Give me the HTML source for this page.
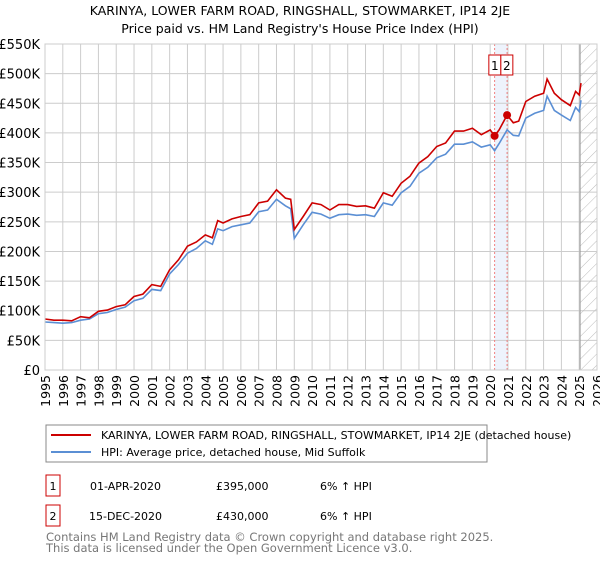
<!DOCTYPE html>
<html><head><meta charset="utf-8"><style>
body{margin:0;background:#fff;font-family:"Liberation Sans","DejaVu Sans",sans-serif;}
svg text{font-family:"DejaVu Sans","Liberation Sans",sans-serif;}
</style></head><body>
<svg id="c" width="600" height="560" xmlns="http://www.w3.org/2000/svg">
<defs><pattern id="h" width="8" height="8" patternUnits="userSpaceOnUse" patternTransform="rotate(45)"><line x1="0" y1="0" x2="0" y2="8" stroke="#bbb" stroke-width="1"/></pattern></defs>
<text x="300" y="15" text-anchor="middle" font-size="12.5">KARINYA, LOWER FARM ROAD, RINGSHALL, STOWMARKET, IP14 2JE</text>
<text x="300" y="33" text-anchor="middle" font-size="12.5">Price paid vs. HM Land Registry's House Price Index (HPI)</text>
<g id="grid"></g><g id="marks"></g><g id="axes"></g>
<rect x="46" y="425" width="441" height="37" fill="none" stroke="#888"/>
<line x1="51" y1="435" x2="91" y2="435" stroke="#cc0000" stroke-width="2"/>
<text x="101" y="439" font-size="11">KARINYA, LOWER FARM ROAD, RINGSHALL, STOWMARKET, IP14 2JE (detached house)</text>
<line x1="51" y1="452" x2="91" y2="452" stroke="#5b8fd4" stroke-width="2"/>
<text x="101" y="456" font-size="11">HPI: Average price, detached house, Mid Suffolk</text>
<rect x="46" y="475" width="14" height="21" fill="none" stroke="#cc0000"/>
<text x="53" y="490" font-size="11" text-anchor="middle">1</text>
<text x="90" y="490" font-size="11">01-APR-2020</text>
<text x="216" y="490" font-size="11">£395,000</text>
<text x="320" y="490" font-size="11">6% ↑ HPI</text>
<rect x="46" y="505" width="14" height="21" fill="none" stroke="#cc0000"/>
<text x="53" y="520" font-size="11" text-anchor="middle">2</text>
<text x="89" y="520" font-size="11">15-DEC-2020</text>
<text x="216" y="520" font-size="11">£430,000</text>
<text x="320" y="520" font-size="11">6% ↑ HPI</text>
<text x="46" y="541" font-size="11.5" fill="#777">Contains HM Land Registry data © Crown copyright and database right 2025.</text>
<text x="46" y="552" font-size="11.5" fill="#777">This data is licensed under the Open Government Licence v3.0.</text>
</svg>
<script>
const years=[1995,1995.5,1996,1996.5,1997,1997.5,1998,1998.5,1999,1999.5,2000,2000.5,2001,2001.5,2002,2002.5,2003,2003.5,2004,2004.4,2004.7,2005,2005.5,2006,2006.5,2007,2007.5,2008,2008.5,2008.8,2009,2009.5,2010,2010.5,2011,2011.5,2012,2012.5,2013,2013.5,2014,2014.5,2015,2015.5,2016,2016.5,2017,2017.5,2018,2018.5,2019,2019.5,2020,2020.25,2020.5,2020.95,2021.3,2021.6,2022,2022.5,2023,2023.2,2023.6,2024,2024.5,2024.8,2025,2025.1];
const priceSeries=[86,84,84,83,90,88,99,101,107,110,124,128,144,141,169,186,209,216,228,223,252,248,255,259,262,282,285,304,290,288,237,259,282,279,270,279,279,276,277,273,299,293,315,327,349,360,377,383,403,403,408,397,405,395,405,430,417,420,453,462,467,491,467,456,446,470,464,484];
const hpiSeries=[81,80,79,80,84,86,95,97,102,106,117,121,136,134,162,178,197,205,218,212,238,235,242,245,248,267,270,288,277,272,222,245,266,263,256,262,263,261,262,259,282,278,299,310,332,342,358,364,381,381,385,376,380,370,382,405,396,395,425,433,438,462,438,430,421,443,436,455];
const saleYears=[2020.25,2020.95];
const salePrices=[395,430];
const yTicks=[0,50,100,150,200,250,300,350,400,450,500,550];
const yLabels=["£0","£50K","£100K","£150K","£200K","£250K","£300K","£350K","£400K","£450K","£500K","£550K"];
const xTicks=[];for(let y=1995;y<=2026;y++)xTicks.push(y);
const L=45,R=597,T=44,B=370,X0=1995,X1=2026,YMAX=550;
const sx=v=>L+(v-X0)/(X1-X0)*(R-L), sy=v=>B-v/YMAX*(B-T);
const NS="http://www.w3.org/2000/svg";
function mk(tag,attrs,parent){const e=document.createElementNS(NS,tag);for(const k in attrs)e.setAttribute(k,attrs[k]);document.getElementById(parent).appendChild(e);return e;}
const bg=mk('rect',{x:L,y:T,width:R-L,height:B-T,fill:'#fff'},'grid');


const band=mk('rect',{x:sx(saleYears[0]),y:T,width:sx(saleYears[1])-sx(saleYears[0]),height:B-T,fill:'#eef3fc'},'grid');


yTicks.forEach((t,i)=>{
 const g=mk('line',{x1:L,x2:R,y1:sy(t),y2:sy(t),stroke:'#ccc'},'grid');
 
 
 const tx=mk('text',{x:L-5,y:sy(t)+5,'text-anchor':'end','font-size':13},'axes');
 tx.textContent=yLabels[i];
 
 
});
xTicks.forEach(t=>{
 const g=mk('line',{x1:sx(t),x2:sx(t),y1:T,y2:B,stroke:'#ccc'},'grid');
 
 
 const tx=mk('text',{x:0,y:0,'text-anchor':'end','font-size':12.5,transform:`translate(${sx(t)+5},${B+5}) rotate(-90)`},'axes');
 tx.textContent=t;
 
 
});
const hx=sx(2025.05);
const hatch=mk('rect',{x:hx,y:T,width:R-hx,height:B-T,fill:'url(#h)'},'grid');


const hl=mk('line',{x1:hx,x2:hx,y1:T,y2:B,stroke:'#999'},'grid');


saleYears.forEach((y,i)=>{
 const v=mk('line',{x1:sx(y),x2:sx(y),y1:T,y2:B,stroke:'#f08080','stroke-dasharray':'2,2'},'grid');
 
 
});
const mid=(sx(saleYears[0])+sx(saleYears[1]))/2;
[0,1].forEach(i=>{
 const bx=i==0?mid-12:mid;
 const r=mk('rect',{x:bx,y:T+11,width:12,height:20,fill:'#fff',stroke:'#cc0000'},'axes');
 
 
 const t=mk('text',{x:bx+6,y:T+26,'text-anchor':'middle','font-size':12},'axes');
 t.textContent=String(i+1);
});
const fr=mk('rect',{x:L,y:T,width:R-L,height:B-T,fill:'none',stroke:'#ccc'},'axes');


function line(vals,color,name){
 const d=vals.map((v,i)=>(i?'L':'M')+sx(years[i]).toFixed(1)+','+sy(v).toFixed(1)).join('');
 const p=mk('path',{d:d,fill:'none',stroke:color,'stroke-width':1.6},'marks');
 
 
}
line(hpiSeries,'#5b8fd4','hpi-line');
line(priceSeries,'#cc0000','property-price-line');
saleYears.forEach((y,i)=>{
 const c=mk('circle',{cx:sx(y),cy:sy(salePrices[i]),r:4,fill:'#cc0000'},'marks');
 
 
});
</script>
</body></html>
